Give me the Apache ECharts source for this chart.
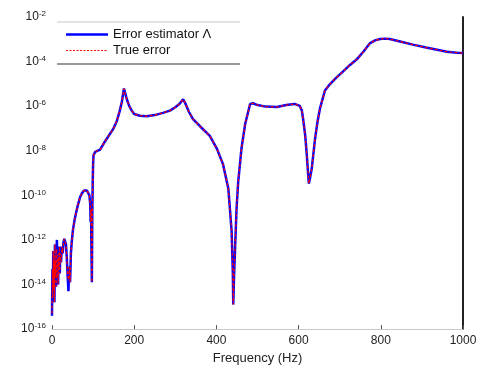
<!DOCTYPE html>
<html>
<head>
<meta charset="utf-8">
<script src="https://cdn.jsdelivr.net/npm/echarts@6/dist/echarts.min.js"></script>
<style>
html, body { margin: 0; padding: 0; background: #fff; }
#container { width: 487px; height: 370px; }
</style>
</head>
<body>
<div id="container"></div>
<script>
// frequency (Hz) and error exponents (log10)
var freq = [0, 1, 2, 3, 4, 5, 6, 7, 8, 9, 10, 11, 12, 13, 14, 15, 16, 17, 18, 19, 20, 22, 24, 26, 28, 30, 32, 34, 36, 38, 40, 42, 44, 46, 48,
    51, 55, 59, 63, 68, 73, 78, 81, 85, 89, 91, 93, 94, 95, 96, 97, 98, 99, 100, 101, 105, 117, 130, 149, 158, 165, 170, 175, 178, 182, 188, 194,
    200, 214, 230, 250, 270, 287, 300, 310, 319, 325, 333, 343, 360, 384, 401, 416, 429, 437, 440, 441, 443, 447, 449, 453, 461, 470, 482, 489,
    500, 520, 547, 570, 590, 603, 608, 611, 616, 620, 623, 625, 628, 632, 640, 646, 652, 664, 676, 690, 709, 725, 741, 758, 774, 786, 798, 810,
    822, 847, 878, 910, 940, 961, 985, 1000];

var estimatorExp = [-15.4, -13.3, -14.6, -12.5, -13.8, -13.0, -14.8, -12.2, -13.6, -12.9, -14.1, -12.4, -12.0, -13.7, -12.8, -14.0, -12.6, -13.3, -12.3, -13.5, -12.6, -13.0, -12.3, -12.6, -12.1, -11.95, -11.9, -12.2, -12.8, -13.6, -14.3, -13.2, -13.9, -12.6, -12.1,
    -11.55, -11.1, -10.75, -10.44, -10.1, -9.9, -9.78, -9.76, -9.78, -9.84, -10.0, -10.4, -11.2, -10.6, -12.5, -13.9, -11.0, -9.5, -8.6, -8.2, -8.05, -7.95, -7.55, -7.02, -6.65, -6.2, -5.8, -5.21, -5.4, -5.69, -6.0, -6.2,
    -6.35, -6.43, -6.45, -6.4, -6.3, -6.2, -6.05, -5.9, -5.69, -5.9, -6.25, -6.58, -6.9, -7.33, -7.9, -8.6, -9.69, -11.6, -13.5, -14.9, -13.6, -11.6, -10.6, -9.4, -7.9, -6.8, -5.9, -5.87,
    -5.95, -6.02, -6.04, -5.95, -5.9, -5.99, -6.2, -6.58, -7.3, -8.2, -9.0, -9.47, -9.2, -8.8, -7.47, -6.7, -6.1, -5.3, -5.02, -4.75, -4.43, -4.15, -3.91, -3.55, -3.17, -3.05, -2.99, -2.97,
    -2.99, -3.1, -3.24, -3.37, -3.48, -3.56, -3.6, -3.62];

var trueErrorExp = [-15.3, -13.3, -14.6, -12.5, -14.2, -13.0, -14.8, -12.2, -13.6, -12.9, -14.1, -12.4, -12.6, -13.7, -12.8, -14.0, -12.6, -13.3, -12.3, -13.5, -12.6, -13.0, -12.3, -12.6, -12.1, -11.95, -11.9, -12.2, -12.8, -13.6, -13.8, -13.2, -13.9, -12.6, -12.1,
    -11.55, -11.1, -10.75, -10.44, -10.1, -9.9, -9.78, -9.76, -9.78, -9.84, -10.0, -10.4, -11.2, -10.6, -12.5, -13.9, -11.0, -9.5, -8.6, -8.2, -8.05, -7.95, -7.55, -7.02, -6.65, -6.2, -5.8, -5.21, -5.4, -5.69, -6.0, -6.2,
    -6.35, -6.43, -6.45, -6.4, -6.3, -6.2, -6.05, -5.9, -5.69, -5.9, -6.25, -6.58, -6.9, -7.33, -7.9, -8.6, -9.69, -11.6, -13.5, -14.9, -13.6, -11.6, -10.6, -9.4, -7.9, -6.8, -5.9, -5.87,
    -5.95, -6.02, -6.04, -5.95, -5.9, -5.99, -6.2, -6.58, -7.3, -8.2, -9.0, -9.47, -9.2, -8.8, -7.47, -6.7, -6.1, -5.3, -5.02, -4.75, -4.43, -4.15, -3.91, -3.55, -3.17, -3.05, -2.99, -2.97,
    -2.99, -3.1, -3.24, -3.37, -3.48, -3.56, -3.6, -3.62];

var xTicks = [0, 200, 400, 600, 800, 1000];
var seriesNames = ['Error estimator \u039B', 'True error'];

function toPairs(xs, exps) {
    var out = [];
    for (var i = 0; i < xs.length; i++) {
        out.push([xs[i], Math.pow(10, exps[i])]);
    }
    return out;
}

var font = 'Liberation Sans, Arial, sans-serif';
var myChart = echarts.init(document.getElementById('container'));
myChart.setOption({
    animation: false,
    textStyle: { fontFamily: font },
    grid: { left: 52, right: 24, top: 17, bottom: 38, containLabel: false },
    legend: {
        orient: 'vertical',
        left: 61,
        top: 23,
        itemWidth: 42,
        itemHeight: 10,
        itemGap: 3,
        textStyle: { fontFamily: font, fontSize: 13, color: '#111' },
        data: [
            { name: seriesNames[0], icon: 'path://M0,0 M42,10 M0,3.8 L42,3.8 L42,6.3 L0,6.3 Z' },
            // sample for the dashed series is drawn as a graphic line below
            { name: seriesNames[1], icon: 'path://M0,0 M42,10', itemStyle: { opacity: 0 } }
        ]
    },
    graphic: [
        { type: 'line', shape: { x1: 57, y1: 22, x2: 240, y2: 22 }, style: { stroke: '#c8c8c8', lineWidth: 1 } },
        { type: 'line', shape: { x1: 57, y1: 64, x2: 240, y2: 64 }, style: { stroke: '#333', lineWidth: 1 } },
        { type: 'line', shape: { x1: 66, y1: 50.5, x2: 108, y2: 50.5 }, style: { stroke: '#ff0000', lineWidth: 1, lineDash: [2, 1.5] } }
    ],
    xAxis: {
        type: 'value',
        min: xTicks[0],
        max: xTicks[xTicks.length - 1],
        interval: 200,
        name: 'Frequency (Hz)',
        nameLocation: 'middle',
        nameGap: 22,
        nameTextStyle: { fontFamily: font, fontSize: 13, color: '#222' },
        axisLine: { lineStyle: { color: '#c8c8c8' } },
        axisTick: { inside: true, length: 4, lineStyle: { color: '#555' } },
        axisLabel: {
            fontFamily: font, fontSize: 12, color: '#222', margin: 6,
            formatter: function (v) { return String(v); }
        },
        splitLine: { show: false }
    },
    yAxis: [
        {
            type: 'log',
            logBase: 10,
            min: 1e-16,
            max: 1e-2,
            interval: 2,
            axisLine: { show: false },
            axisTick: { show: false },
            splitLine: { show: false },
            axisLabel: {
                margin: 6,
                formatter: function (v) {
                    var e = Math.round(Math.log(v) / Math.LN10);
                    return '{b|10}{s|' + e + '}';
                },
                rich: {
                    b: { fontFamily: font, fontSize: 12, color: '#222' },
                    s: { fontFamily: font, fontSize: 8, color: '#222', verticalAlign: 'top', padding: [0, 0, 6, 0] }
                }
            }
        },
        {
            type: 'value',
            position: 'right',
            min: 0,
            max: 1,
            axisLine: { show: true, lineStyle: { color: '#222', width: 2 } },
            axisTick: { show: false },
            axisLabel: { show: false },
            splitLine: { show: false }
        }
    ],
    series: [
        {
            name: seriesNames[0],
            type: 'line',
            symbol: 'none',
            color: '#0000ff',
            data: toPairs(freq, estimatorExp),
            lineStyle: { color: '#0000ff', width: 2.5 },
            itemStyle: { color: '#0000ff' }
        },
        {
            name: seriesNames[1],
            type: 'line',
            symbol: 'none',
            color: '#ff0000',
            data: toPairs(freq, trueErrorExp),
            lineStyle: { color: '#ff0000', width: 1.2, type: [3, 2] },
            itemStyle: { color: '#ff0000' }
        }
    ]
});
</script>
</body>
</html>
